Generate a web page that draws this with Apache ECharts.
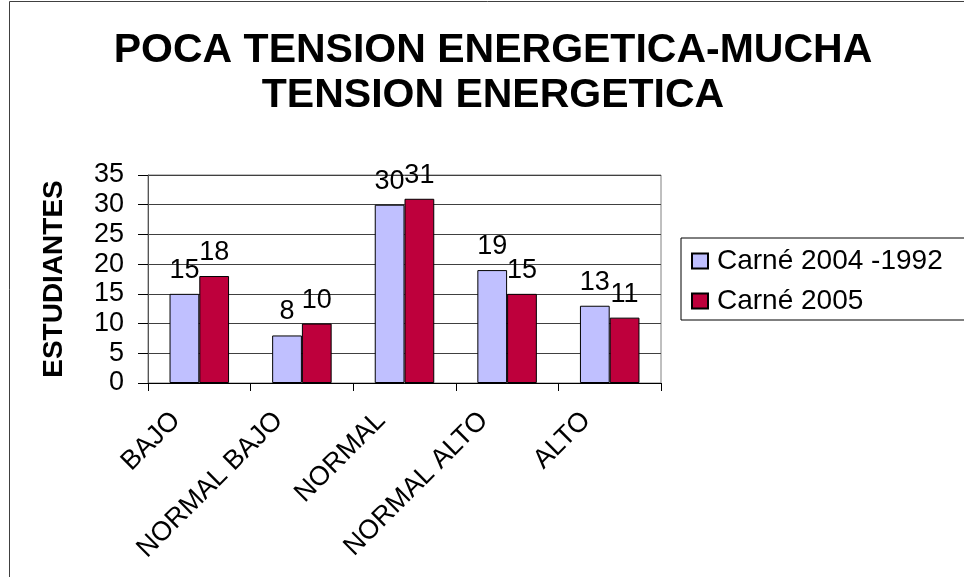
<!DOCTYPE html>
<html>
<head>
<meta charset="utf-8">
<script src="https://cdn.jsdelivr.net/npm/echarts@6/dist/echarts.min.js"></script>
<style>
  html, body { margin: 0; padding: 0; background: #fff; }
  #chart { width: 964px; height: 577px; }
</style>
</head>
<body>
<div id="chart"></div>
<script>
// datos
var categorias = ['BAJO', 'NORMAL BAJO', 'NORMAL', 'NORMAL ALTO', 'ALTO'];
var carne2004 = [15, 8, 30, 19, 13];
var carne2005 = [18, 10, 31, 15, 11];
var nombresSeries = ['Carné 2004 -1992', 'Carné 2005'];

var fuente = "'Liberation Sans', Arial, sans-serif";
var chart = echarts.init(document.getElementById('chart'));

var option = {
    animation: false,
    backgroundColor: '#fff',
    textStyle: { fontFamily: fuente, color: '#000' },
    title: {
        text: 'POCA TENSION ENERGETICA-MUCHA\nTENSION ENERGETICA',
        left: 488,
        textAlign: 'center',
        top: 23,
        textStyle: {
            fontFamily: fuente,
            fontSize: 41,
            fontWeight: 'bold',
            color: '#000',
            lineHeight: 45
        }
    },
    legend: {
        orient: 'vertical',
        left: 681,
        top: 238,
        padding: [9, 80, 5, 10],
        itemGap: 12,
        itemWidth: 16,
        itemHeight: 15,
        icon: 'rect',
        borderColor: '#000',
        borderWidth: 1,
        textStyle: { fontFamily: fuente, fontSize: 28, color: '#000', padding: [0, 0, 0, 4] },
        data: nombresSeries
    },
    graphic: [{
        type: 'rect',
        shape: { x: 9.5, y: 1.5, width: 1000, height: 700 },
        style: { fill: 'none', stroke: '#404040', lineWidth: 1 },
        silent: true
    }],
    grid: {
        left: 148,
        right: 303,
        top: 175,
        bottom: 194,
        containLabel: false,
        outerBoundsMode: 'none',
        show: true,
        borderColor: '#808080',
        borderWidth: 1,
        backgroundColor: '#fff'
    },
    xAxis: {
        type: 'category',
        data: categorias,
        axisLine: { show: true, lineStyle: { color: '#000', width: 1 } },
        axisTick: { show: true, length: 8, alignWithLabel: false, lineStyle: { color: '#000' } },
        axisLabel: {
            interval: 0,
            rotate: 45,
            margin: 10,
            padding: [0, 33, 0, 0],
            fontFamily: fuente,
            fontSize: 27,
            color: '#000',
            hideOverlap: false
        },
        splitLine: { show: false }
    },
    yAxis: {
        type: 'value',
        min: 0,
        max: 35,
        interval: 5,
        name: 'ESTUDIANTES',
        nameLocation: 'middle',
        nameGap: 80,
        nameTextStyle: { fontFamily: fuente, fontSize: 28, fontWeight: 'bold', color: '#000' },
        axisLine: { show: true, lineStyle: { color: '#555', width: 1 } },
        axisTick: { show: true, length: 10, lineStyle: { color: '#000' } },
        axisLabel: { margin: 24, fontFamily: fuente, fontSize: 27, color: '#000' },
        splitLine: { show: true, lineStyle: { color: '#404040', width: 1 } }
    },
    series: [{
        name: nombresSeries[0],
        type: 'bar',
        data: carne2004,
        barGap: '0%',
        barCategoryGap: '42%',
        itemStyle: { color: '#C0C0FF', borderColor: '#000', borderWidth: 1 },
        label: { show: true, position: 'top', distance: 10, fontFamily: fuente, fontSize: 27, color: '#000' }
    }, {
        name: nombresSeries[1],
        type: 'bar',
        data: carne2005,
        barGap: '0%',
        barCategoryGap: '42%',
        itemStyle: { color: '#BE003C', borderColor: '#000', borderWidth: 1 },
        label: { show: true, position: 'top', distance: 10, fontFamily: fuente, fontSize: 27, color: '#000' }
    }]
};

chart.setOption(option);
</script>
</body>
</html>
